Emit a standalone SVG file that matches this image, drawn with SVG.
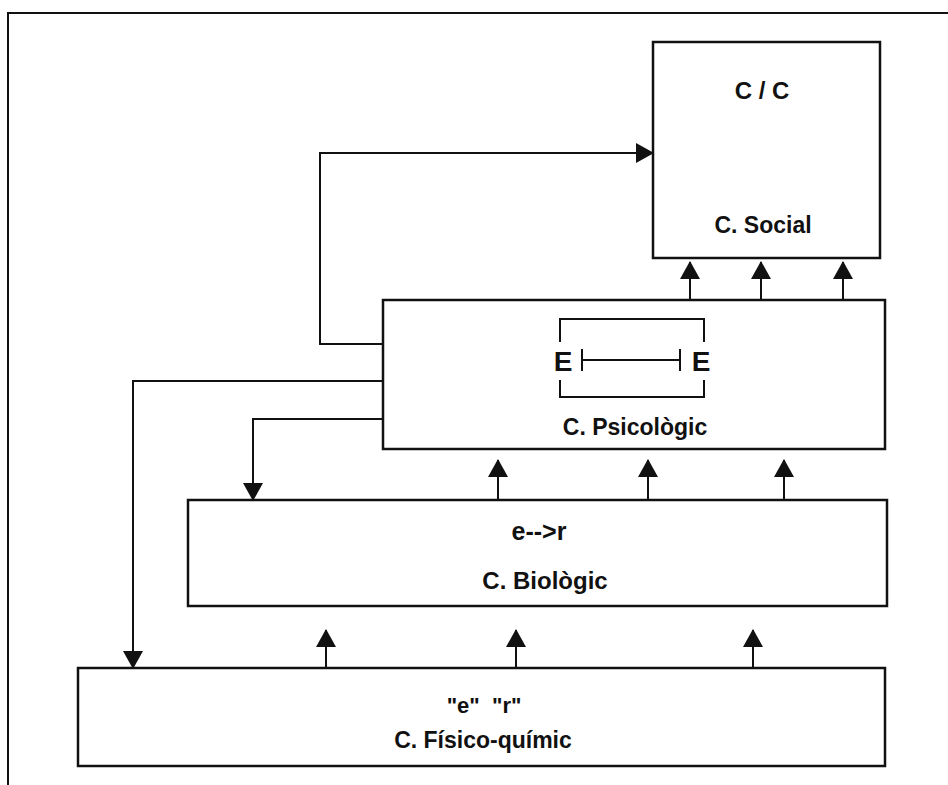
<svg xmlns="http://www.w3.org/2000/svg" width="948" height="785" viewBox="0 0 948 785">
<style>
.box{fill:#fff;stroke:#111;stroke-width:2.5}
.ln{fill:none;stroke:#111;stroke-width:2}
.ar{fill:none;stroke:#111;stroke-width:2;marker-end:url(#ah)}
text{font-family:"Liberation Sans",Arial,sans-serif;font-weight:bold;fill:#111;text-anchor:middle}
</style>
<defs>
<marker id="ah" viewBox="0 0 18 20" refX="17" refY="10" markerWidth="18" markerHeight="20" markerUnits="userSpaceOnUse" orient="auto">
<path d="M0,0 L18,10 L0,20 z" fill="#111"/>
</marker>
</defs>
<rect width="948" height="785" fill="#fff"/>
<path class="ln" d="M8,785 V13 H948" stroke-width="2.5"/>
<g id="social">
<rect class="box" x="653" y="42" width="227" height="216"/>
<text x="762" y="99" font-size="24">C / C</text>
<text x="763" y="233" font-size="23">C. Social</text>
</g>
<g id="psicologic">
<rect class="box" x="383" y="300" width="502" height="149"/>
<path class="ln" d="M560,342 V319 H704 V342 M560,380 V397 H704 V380 M582,349 V371 M680,349 V371 M582,360 H680"/>
<text x="563" y="371" font-size="28">E</text>
<text x="701" y="371" font-size="28">E</text>
<text x="635" y="435" font-size="23">C. Psicològic</text>
</g>
<g id="biologic">
<rect class="box" x="188" y="500" width="699" height="106"/>
<text x="539" y="540" font-size="25">e--&gt;r</text>
<text x="545" y="589" font-size="24">C. Biològic</text>
</g>
<g id="fisico">
<rect class="box" x="78" y="668" width="807" height="98"/>
<text x="484" y="713" font-size="22" xml:space="preserve">"e"  "r"</text>
<text x="483" y="748" font-size="23">C. Físico-químic</text>
</g>
<g id="connectors">
<path class="ar" d="M690,300 V262"/>
<path class="ar" d="M761,300 V262"/>
<path class="ar" d="M843,300 V262"/>
<path class="ar" d="M498,500 V460"/>
<path class="ar" d="M648,500 V460"/>
<path class="ar" d="M784,500 V460"/>
<path class="ar" d="M326,668 V630"/>
<path class="ar" d="M516,668 V630"/>
<path class="ar" d="M753,668 V630"/>
<path class="ar" d="M383,344 H320 V153 H653"/>
<path class="ar" d="M383,381 H133 V668"/>
<path class="ar" d="M383,419 H253 V500"/>
</g>
</svg>
